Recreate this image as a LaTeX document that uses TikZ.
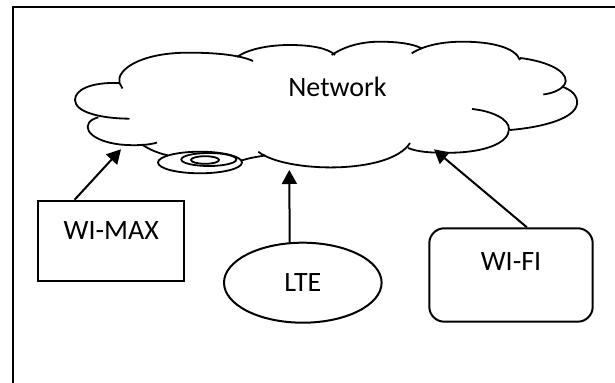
\documentclass[tikz,border=0pt]{standalone}
\usepackage{fontspec}
\setmainfont{Carlito}
\usetikzlibrary{calc, shapes.geometric, arrows.meta}
\definecolor{InkBlack}{RGB}{0, 0, 0}

\begin{document}
\begin{tikzpicture}[x=0.5pt, y=-0.5pt, line width=0.9pt, InkBlack,
    lbl/.style={font=\fontsize{14}{16}\selectfont},
    box/.style={draw, lbl, line width=1pt, inner sep=0pt},
    link/.style={line width=1pt, -{Triangle[length=7pt, width=7.5pt]}}]
    \useasboundingbox (0,0) rectangle (615,383);
    \draw[line width=1pt] (13,383) -- (13,7.5) -- (615,7.5);
    % cloud
    \draw (122.5,88.5) -- (119.5,83) .. controls (116,70) and (140,53) .. (186.7,52.7) .. controls (215,52.5) and (240,55) .. (253,61);
    \draw (119.5,83) .. controls (90,82) and (75,90) .. (75,100) .. controls (75,112) and (100,118.5) .. (129.5,118.7);
    \draw (98.3,117.3) .. controls (80,122) and (84,140) .. (120,144.5) .. controls (135,146) and (150,145) .. (157,142.5);
    \draw (237,57) .. controls (250,48) and (272,45) .. (290,45) .. controls (310,45) and (328,48) .. (335,55);
    \draw (331.7,55) .. controls (345,46) and (362,41.7) .. (380,41.7) .. controls (398,41.7) and (414,44) .. (421.7,48.5);
    \draw (411.7,53.3) .. controls (425,45) and (443,41.7) .. (463,41.7) .. controls (490,41.7) and (515,47) .. (520,60);
    \draw (520,58) .. controls (545,61) and (566,70) .. (565.7,81) .. controls (565,88) and (555,93) .. (543.3,94.5);
    \draw (561.7,86.5) .. controls (572,90) and (578,96) .. (577,104) .. controls (575,118) and (545,127) .. (510,130);
    \draw (472,109) .. controls (492,111) and (509,119) .. (509,129) .. controls (509,143) and (485,152) .. (453,152.7) .. controls (430,153) and (418,152) .. (408,148);
    \draw (258.3,151.7) .. controls (285,173) and (390,175) .. (410,143);
    \draw (142,144.5) .. controls (150,150) and (158,153) .. (168,155.5);
    \draw (241.5,160.5) .. controls (250,158) .. (265,155.5);
    \draw (200,162.5) ellipse [x radius=42, y radius=10.8];
    \draw (208.8,159.5) ellipse [x radius=27.5, y radius=6.5];
    \draw (205,160) ellipse [x radius=14, y radius=3.8];
    \node[lbl, anchor=base] (net) at (337.5,96.7) {Network};
    \coordinate (tipmax) at (121,149.3);
    \coordinate (tiplte) at (289.3,170);
    \coordinate (tipfi) at (434,149.3);
    \node[box, minimum width=73pt, minimum height=40.3pt, text depth=10pt] (wimax) at (111.2,241) {WI-MAX};
    \node[box, ellipse, minimum width=78.8pt, minimum height=40pt] (lte) at (302.8,282.7) {LTE};
    \node[box, rounded corners=7.5pt, minimum width=81.7pt, minimum height=46.7pt, text depth=13.5pt] (wifi) at (511,275) {WI-FI};
    \draw[link] ($(wimax.north west)!.253!(wimax.north east)$) -- (tipmax);
    \draw[link] (lte.108) -- (tiplte);
    \draw[link] ($(wifi.north west)!.596!(wifi.north east)$) -- (tipfi);
\end{tikzpicture}
\end{document}
